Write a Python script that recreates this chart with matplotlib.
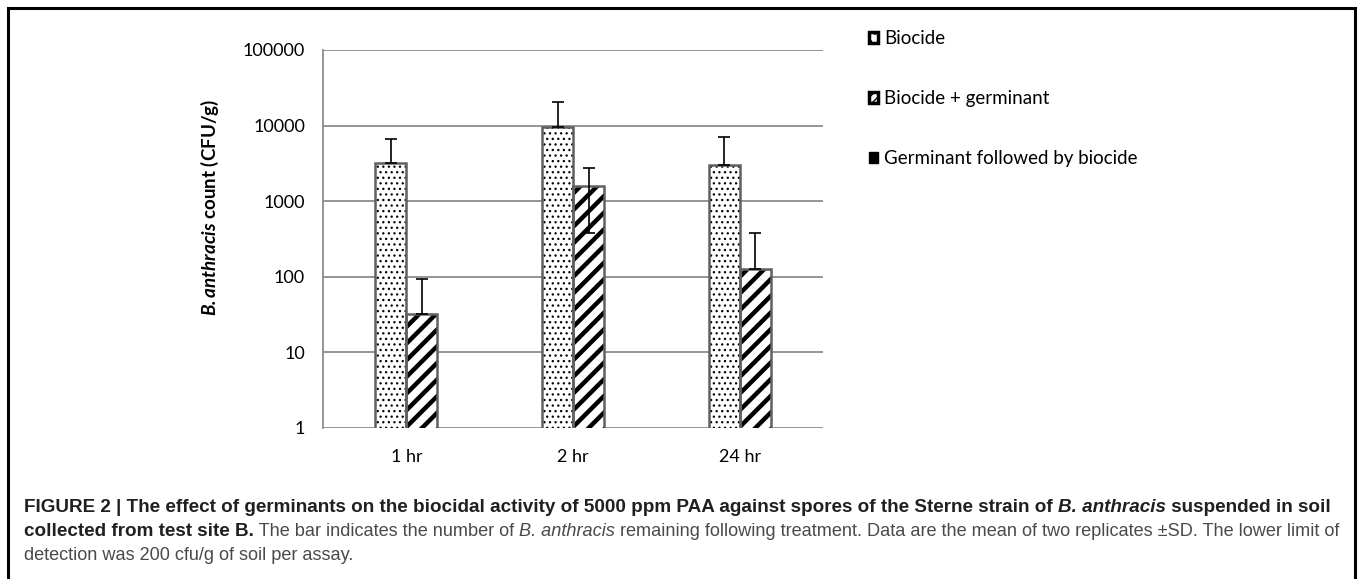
import numpy as np
import matplotlib
matplotlib.use("Agg")
import matplotlib.pyplot as plt
from matplotlib.patches import Patch, Rectangle

# data
times = ["1 hr", "2 hr", "24 hr"]
biocide = [3200, 9500, 3050]
biocide_sd = [3400, 11000, 4000]
biocide_germ = [32, 1580, 128]
biocide_germ_sd = [62, 1200, 250]
legend_labels = ["Biocide", "Biocide + germinant", "Germinant followed by biocide"]
yticks = [1, 10, 100, 1000, 10000, 100000]

W, H = 1358, 579
plt.rcParams["font.family"] = ["Lato", "DejaVu Sans"]
plt.rcParams["mathtext.fontset"] = "custom"
plt.rcParams["mathtext.rm"] = "Lato"
plt.rcParams["mathtext.bfit"] = "Lato:italic:bold"
plt.rcParams["mathtext.it"] = "Lato:italic"

fig = plt.figure(figsize=(W / 100, H / 100), dpi=100)
ax = fig.add_axes([323 / W, 1 - 428 / H, 500 / W, 378 / H])

x = np.arange(len(times))
w = 0.186


def lower(vals, sd):
    vals = np.array(vals, float)
    sd = np.array(sd, float)
    return np.where(vals - sd > 0, sd, 0)


def set_hlw(bars, lw):
    for p in bars:
        if hasattr(p, "set_hatch_linewidth"):
            p.set_hatch_linewidth(lw)


with plt.rc_context({"hatch.linewidth": 0.9, "hatch.color": "black"}):
    b1 = ax.bar(x - w / 2, biocide, w, color="white", hatch="...", edgecolor="black",
                linewidth=0, zorder=3)
set_hlw(b1, 0.9)
with plt.rc_context({"hatch.linewidth": 3.2, "hatch.color": "black"}):
    b2 = ax.bar(x + w / 2, biocide_germ, w, color="white", hatch="//", edgecolor="black",
                linewidth=0, zorder=3)
set_hlw(b2, 3.2)
# bar outlines
ax.bar(x - w / 2, biocide, w, fill=False, edgecolor="#606060", linewidth=1.8, zorder=4)
ax.bar(x + w / 2, biocide_germ, w, fill=False, edgecolor="#606060", linewidth=1.8, zorder=4)

ax.errorbar(x - w / 2, biocide, yerr=[lower(biocide, biocide_sd), biocide_sd], fmt="none",
            ecolor="black", elinewidth=1.2, capsize=4, capthick=1.2, zorder=5)
ax.errorbar(x + w / 2, biocide_germ, yerr=[lower(biocide_germ, biocide_germ_sd), biocide_germ_sd],
            fmt="none", ecolor="black", elinewidth=1.2, capsize=4, capthick=1.2, zorder=5)

ax.set_yscale("log")
ax.set_ylim(1, 100000)
ax.set_xlim(-0.5, len(times) - 0.5)
ax.set_yticks(yticks)
ax.set_yticklabels([str(v) for v in yticks])
ax.minorticks_off()
ax.set_xticks(x)
ax.set_xticklabels(times)
ax.tick_params(axis="y", length=0, pad=13, labelsize=13)
ax.tick_params(axis="x", length=0, pad=15, labelsize=13)
ax.yaxis.grid(True, color="#8c8c8c", linewidth=1.3, zorder=0)
ax.set_axisbelow(True)
for s in ["top", "right", "bottom"]:
    ax.spines[s].set_visible(False)
ax.spines["left"].set_color("#8c8c8c")
ax.spines["left"].set_linewidth(1.3)

fig.text(210 / W, 1 - 207 / H, r"$\bfit{B.anthracis}$ count (CFU/g)", rotation=90,
         ha="center", va="center", fontsize=13.5, fontweight="bold")

handles = [
    Patch(facecolor="white", edgecolor="black", hatch="..", linewidth=2.5),
    Patch(facecolor="white", edgecolor="black", hatch="////", linewidth=2.5),
    Patch(facecolor="black", edgecolor="black", linewidth=1),
]
fig.legend(handles, legend_labels, loc="upper left", bbox_to_anchor=(869 / W, 1 - 30 / H),
           frameon=False, handlelength=0.5, handleheight=0.5, handletextpad=0.3,
           labelspacing=2.3, fontsize=13.5, borderaxespad=0, borderpad=0)

# outer frame
fig.add_artist(Rectangle((8 / W, -0.05), (1355 - 8) / W, 1.05 - 8 / H, transform=fig.transFigure,
                         fill=False, edgecolor="black", linewidth=2.2))

# caption
cap = [
    [("FIGURE 2 | The effect of germinants on the biocidal activity of 5000 ppm PAA against spores of the Sterne strain of ", "bold", "normal"),
     ("B. anthracis", "bold", "italic"),
     (" suspended in soil", "bold", "normal")],
    [("collected from test site B.", "bold", "normal"),
     (" The bar indicates the number of ", "normal", "normal"),
     ("B. anthracis", "normal", "italic"),
     (" remaining following treatment. Data are the mean of two replicates \u00b1SD. The lower limit of", "normal", "normal")],
    [("detection was 200 cfu/g of soil per assay.", "normal", "normal")],
]
renderer = fig.canvas.get_renderer()
base_y = [512, 536, 560]
for line, yb in zip(cap, base_y):
    xp = 24
    for txt, wt, st in line:
        t = fig.text(xp / W, 1 - yb / H, txt, fontsize=13.6 if wt == "bold" else 13.05,
                     fontweight=wt, fontstyle=st, family=["Liberation Sans", "DejaVu Sans"],
                     color="#231f20" if wt == "bold" else "#4a4a4a", va="baseline", ha="left")
        bb = t.get_window_extent(renderer)
        xp += bb.width

fig.savefig("out.png", dpi=100)
